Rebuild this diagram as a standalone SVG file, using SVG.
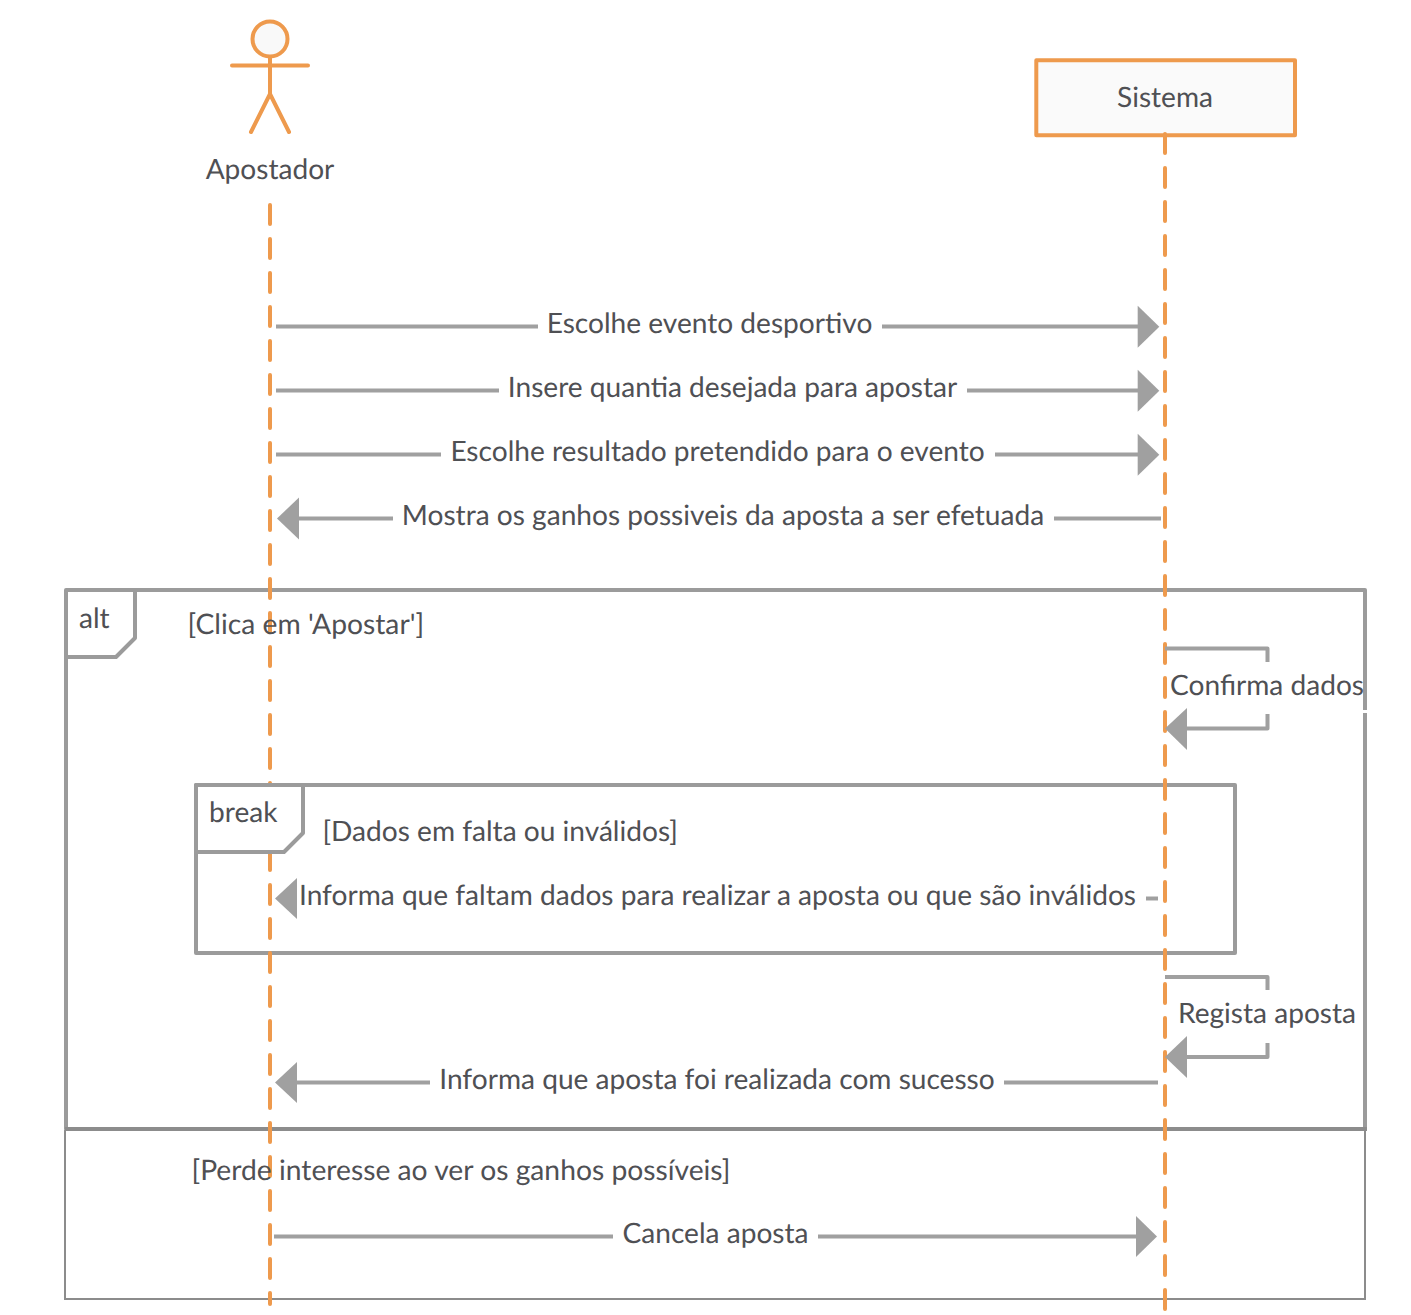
<svg xmlns="http://www.w3.org/2000/svg" width="1411" height="1315" viewBox="0 0 1411 1315">
<style>
text{font-family:"Lato","Carlito","Liberation Sans",sans-serif;font-size:28.1px;fill:#4f5054;text-rendering:geometricPrecision}
.m{text-anchor:middle}
.w{font-size:28.25px}
.c{fill:none;stroke:#a0a0a0;stroke-width:4;stroke-linejoin:round}
.h{fill:#a0a0a0;stroke:none}
.f{fill:none;stroke:#9b9b9b;stroke-width:4;stroke-linejoin:round}
.o{fill:none;stroke:#ee9a4d;stroke-width:4;stroke-linecap:round}
.l{stroke-dasharray:19 15}
</style>
<rect width="1411" height="1315" fill="#fff"/>
<g id="frame-else">
<path d="M65 1130V1299H1365V1130" fill="none" stroke="#8c8c8c" stroke-width="2"/>
</g>
<g id="frame-alt">
<path class="f" d="M1365 1129H66V590H1365V710M1365 713V1129"/>
<path class="f" d="M66 657H116L135 638V590"/>
<path d="M65 1129H1367" stroke="#8c8c8c" stroke-width="4" fill="none"/>
</g>
<g id="frame-break">
<path class="f" d="M196 785H1235V953H196Z"/>
</g>
<g id="apostador">
<circle cx="270" cy="39" r="17.500" fill="#f9f9f9" stroke="#ee9a4d" stroke-width="4"/>
<path class="o" d="M270 57V94M232 65.500H308M270 94L251 132M270 94L289 132"/>
<text class="m" x="270" y="179">Apostador</text>
<path class="o l" d="M270 205V1304"/>
</g>
<g id="sistema">
<rect x="1036.300" y="60.300" width="258.700" height="75" fill="#fafafa" stroke="#ee9a4d" stroke-width="4" stroke-linejoin="round"/>
<text class="m" x="1165" y="107">Sistema</text>
<path class="o l" d="M1165 134V1312"/>
</g>
<g id="frame-labels">
<path d="M196 852H284L303 833V785H196Z" fill="#fff" stroke="#9b9b9b" stroke-width="4" stroke-linejoin="round"/>
<text x="79" y="628">alt</text>
<text class="w" x="187.500" y="634">[Clica em 'Apostar']</text>
<text x="209" y="822">break</text>
<text x="322.500" y="841">[Dados em falta ou inválidos]</text>
<text class="w" x="191.500" y="1180">[Perde interesse ao ver os ganhos possíveis]</text>
</g>
<g id="connectors">
<path class="c" d="M276 326.500H538M882 326.500H1140"/>
<path class="h" d="M1159.300 326.700L1137.700 305.700V347.700Z"/>
<text class="m" x="709.500" y="333">Escolhe evento desportivo</text>
<path class="c" d="M276 390.500H499M967 390.500H1140"/>
<path class="h" d="M1159.300 390.700L1137.700 369.700V411.700Z"/>
<text class="m" x="732.500" y="397">Insere quantia desejada para apostar</text>
<path class="c" d="M276 454.500H441M995 454.500H1140"/>
<path class="h" d="M1159.300 454.700L1137.700 433.700V475.700Z"/>
<text class="m" x="717.500" y="461">Escolhe resultado pretendido para o evento</text>
<path class="c" d="M297 518.500H393M1054 518.500H1161"/>
<path class="h" d="M277 518.500L299 497.500V539.500Z"/>
<text class="m" x="723" y="525">Mostra os ganhos possiveis da aposta a ser efetuada</text>
<path class="c" d="M1165 648.500H1267.500V662M1267.500 714V728.500H1184"/>
<path class="h" d="M1165 728.500L1187 708V750Z"/>
<text class="m" x="1267" y="695">Confirma dados</text>
<path class="c" d="M1146 898.500H1158"/>
<path class="h" d="M275 898.500L297 878V919Z"/>
<text class="m" x="717.500" y="905">Informa que faltam dados para realizar a aposta ou que são inválidos</text>
<path class="c" d="M1165 977H1267.500V990M1267.500 1043V1057H1184"/>
<path class="h" d="M1165 1057L1187 1036V1078Z"/>
<text class="m" x="1267" y="1023">Regista aposta</text>
<path class="c" d="M295 1082.500H430M1004 1082.500H1158"/>
<path class="h" d="M275 1082.500L297 1062V1103Z"/>
<text class="m" x="717" y="1089">Informa que aposta foi realizada com sucesso</text>
<path class="c" d="M274 1236.500H613M818 1236.500H1138"/>
<path class="h" d="M1157 1236.500L1136 1216V1257Z"/>
<text class="m" x="715.500" y="1243">Cancela aposta</text>
</g>
</svg>
